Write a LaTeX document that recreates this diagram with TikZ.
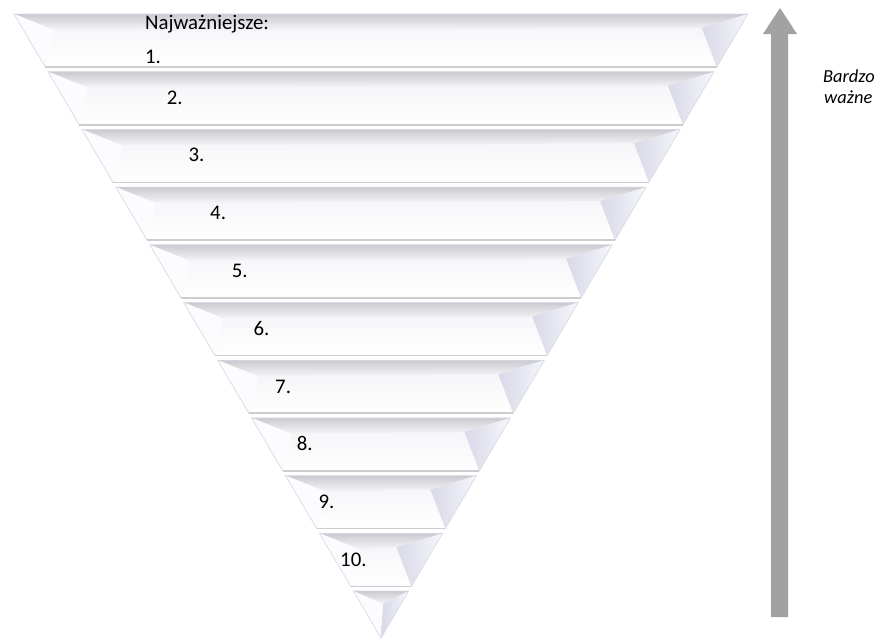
\documentclass[tikz,border=0pt]{standalone}
\usepackage{fontspec}
\setmainfont{Carlito}
\definecolor{topdark}{RGB}{202,202,208}
\definecolor{toplight}{RGB}{246,246,249}
\definecolor{facec}{RGB}{249,249,252}
\definecolor{leftc}{RGB}{252,252,254}
\definecolor{rightdark}{RGB}{216,216,232}
\definecolor{rightlight}{RGB}{246,246,251}
\definecolor{edgec}{RGB}{212,220,230}
\definecolor{botc}{RGB}{205,205,208}
\definecolor{arrowc}{RGB}{162,162,162}
\begin{document}
\begin{tikzpicture}[x=1pt,y=-1pt,
  lbl/.style={anchor=base west,inner sep=0pt,font=\fontsize{20.8}{24}\selectfont},
  side/.style={anchor=base west,inner sep=0pt,font=\fontsize{18.4}{22}\selectfont\itshape},
  edge/.style={draw=edgec,line width=0.7pt},
  botline/.style={draw=botc,line width=1.6pt}]
\useasboundingbox[fill=white] (0,0) rectangle (876,640);
% bands
\foreach \i in {0,...,9}{
  \pgfmathsetmacro\yt{14+\i*57.7}
  \pgfmathsetmacro\yb{\yt+53}
  \pgfmathsetmacro\wt{(638-\yt)*0.588}
  \pgfmathsetmacro\wb{(638-\yb)*0.588}
  \path ({381-\wt},\yt) coordinate (TL) ({381+\wt},\yt) coordinate (TR)
        ({381+\wb},\yb) coordinate (BR) ({381-\wb},\yb) coordinate (BL)
        ({381-\wt+40},{\yt+16}) coordinate (tl) ({381+\wt-46},{\yt+14}) coordinate (tr);
  \fill[facec] (TL) -- (TR) -- (BR) -- (BL) -- cycle;
  \shade[top color=toplight,bottom color=white] (tl) -- (tr) -- (BR) -- (BL) -- cycle;
  \shade[top color=topdark,bottom color=toplight] (TL) -- (TR) -- (tr) -- (tl) -- cycle;
  \fill[leftc] (TL) -- (tl) -- (BL) -- cycle;
  \shade[left color=rightdark,right color=rightlight] (TR) -- (tr) -- (BR) -- cycle;
  \draw[edge] (TL) -- (TR) -- (BR) -- (BL) -- cycle;
  \draw[botline] (BL) -- (BR);
}
% bottom triangle
\path ({381-27.6},591) coordinate (TL) ({381+27.6},591) coordinate (TR)
      (381,638) coordinate (tip) (383,604) coordinate (ctr);
\shade[top color=topdark,bottom color=toplight] (TL) -- (TR) -- (ctr) -- cycle;
\fill[leftc] (TL) -- (ctr) -- (tip) -- cycle;
\shade[left color=rightdark,right color=rightlight] (TR) -- (ctr) -- (tip) -- cycle;
\draw[edge] (TL) -- (TR) -- (tip) -- cycle;
% arrow
\fill[arrowc] (771,617) -- (771,34) -- (763,34) -- (780,8) -- (797,34) -- (788,34) -- (788,617) -- cycle;
% texts
\node[lbl] (naj) at (145,29.3) {Najważniejsze:};
\node[lbl] (n1) at (145,63.3) {1.};
\foreach \k in {2,...,10}{
  \node[lbl] (n\k) at ({145+(\k-1)*21.67},{104+(\k-2)*57.8}) {\k.};
}
\node[side] (bardzo) at (823,82.7) {Bardzo};
\node[side] (wazne) at (824,103.3) {ważne};
\end{tikzpicture}
\end{document}
